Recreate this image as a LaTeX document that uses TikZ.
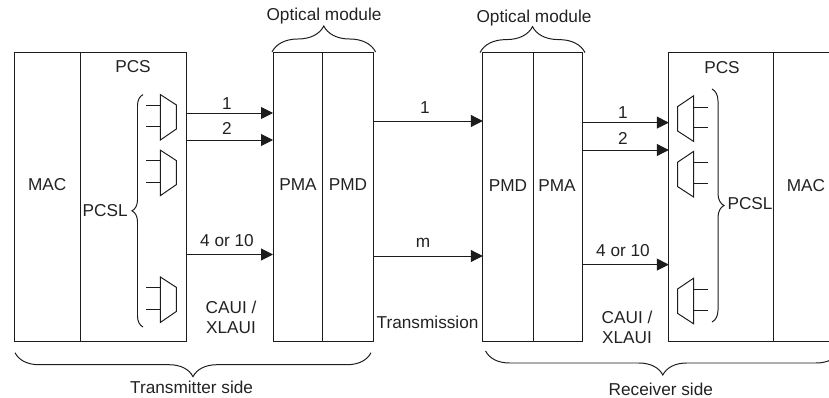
\documentclass[tikz,border=0pt]{standalone}
\usepackage{fontspec}
\setmainfont{Liberation Sans}
\usetikzlibrary{arrows.meta,decorations.pathreplacing}
\definecolor{inkline}{HTML}{1C1C1C}
\definecolor{inktext}{HTML}{222222}
\tikzset{
  blockbox/.style={draw=inkline, line width=0.7pt, anchor=north west, minimum height=7.225cm, inner sep=0pt, outer sep=0pt},
  lbl/.style={text=inktext, font=\fontsize{12.25}{14.2}\selectfont, inner sep=0pt, align=center},
  sigarrow/.style={draw=inkline, line width=0.7pt, -{Triangle[length=8.5pt,width=8.5pt]}},
  muxline/.style={draw=inkline, line width=0.7pt},
  bracket/.style={draw=inkline, line width=0.7pt, decorate, decoration={brace, amplitude=#1}}
}

\begin{document}
\begin{tikzpicture}
\useasboundingbox (0,0) rectangle (20.725,9.925);
% Transmitter side
\node[blockbox, minimum width=1.63cm] (macT) at (0.37,8.625) {};
\node[blockbox, minimum width=2.65cm] (pcsT) at (2.0,8.625) {};
\node[blockbox, minimum width=1.235cm] (pmaT) at (6.825,8.625) {};
\node[blockbox, minimum width=1.265cm] (pmdT) at (8.06,8.625) {};
\node[lbl] (macTtext) at (1.18,5.3) {MAC};
\node[lbl] (pcsTtext) at (3.325,8.25) {PCS};
\node[lbl] (pcslT) at (2.63,4.65) {PCSL};
\node[lbl] (pmaTtext) at (7.45,5.3) {PMA};
\node[lbl] (pmdTtext) at (8.7,5.3) {PMD};
% Receiver side
\node[blockbox, minimum width=1.26cm] (pmdR) at (12.07,8.6075) {};
\node[blockbox, minimum width=1.24cm] (pmaR) at (13.33,8.6075) {};
\node[blockbox, minimum width=2.62cm] (pcsR) at (16.72,8.6075) {};
\node[blockbox, minimum width=1.8cm] (macR) at (19.34,8.6075) {};
\node[lbl] (pmdRtext) at (12.7,5.275) {PMD};
\node[lbl] (pmaRtext) at (13.925,5.275) {PMA};
\node[lbl] (pcsRtext) at (18.05,8.225) {PCS};
\node[lbl] (pcslR) at (18.75,4.825) {PCSL};
\node[lbl] (macRtext) at (20.15,5.275) {MAC};
% Lanes
\coordinate (laneA) at (5,7.1);
\coordinate (laneB) at (5,6.425);
\coordinate (laneC) at (5,3.5625);
\coordinate (fibreA) at (10,6.9);
\coordinate (fibreM) at (10,3.525);
\coordinate (laneD) at (15,6.86);
\coordinate (laneE) at (15,6.175);
\coordinate (laneF) at (15,3.31);
\draw[sigarrow] (pcsT.east |- laneA) -- (pmaT.west |- laneA);
\draw[sigarrow] (pcsT.east |- laneB) -- (pmaT.west |- laneB);
\draw[sigarrow] (pcsT.east |- laneC) -- (pmaT.west |- laneC);
\draw[sigarrow] (pmdT.east |- fibreA) -- (pmdR.west |- fibreA);
\draw[sigarrow] (pmdT.east |- fibreM) -- (pmdR.west |- fibreM);
\draw[sigarrow] (pmaR.east |- laneD) -- (pcsR.west |- laneD);
\draw[sigarrow] (pmaR.east |- laneE) -- (pcsR.west |- laneE);
\draw[sigarrow] (pmaR.east |- laneF) -- (pcsR.west |- laneF);
\node[lbl] (numA) at (5.675,7.325) {1};
\node[lbl] (numB) at (5.675,6.725) {2};
\node[lbl] (numC) at (5.675,3.9) {4 or 10};
\node[lbl] (numD) at (10.625,7.225) {1};
\node[lbl] (numM) at (10.575,3.85) {m};
\node[lbl] (numE) at (15.575,7.1) {1};
\node[lbl] (numF) at (15.575,6.475) {2};
\node[lbl] (numG) at (15.575,3.65) {4 or 10};
\node[lbl] (cauiT) at (5.775,2.0) {CAUI /\\XLAUI};
\node[lbl] (cauiR) at (15.675,1.75) {CAUI /\\XLAUI};
\node[lbl] (transm) at (10.69,1.875) {Transmission};
% Muxes
\foreach \muxy in {0,-1.39,-4.56} {
  \draw[muxline, shift={(0,\muxy)}] (4.01,7.56) -- (4.41,7.3) -- (4.41,6.7) -- (4.01,6.425) -- cycle;
  \draw[muxline, shift={(0,\muxy)}] (3.66,7.3) -- (4.01,7.3) (3.66,6.76) -- (4.01,6.76);
  \draw[muxline, shift={(0,\muxy)}] (17.34,7.53) -- (16.94,7.26) -- (16.94,6.65) -- (17.34,6.39) -- cycle;
  \draw[muxline, shift={(0,\muxy)}] (17.34,7.25) -- (17.69,7.25) (17.34,6.73) -- (17.69,6.73);
}
% Braces
\draw[bracket=0.275cm] (3.575,1.75) -- (3.575,7.56);
\draw[bracket=0.3cm] (17.8,7.7) -- (17.8,1.875);
\draw[bracket=0.65cm] (6.8,8.625) -- (9.39,8.625);
\draw[bracket=0.65cm] (12.0,8.61) -- (14.625,8.61);
\draw[bracket=0.6cm] (9.275,1.1075) -- (0.375,1.1075);
\draw[bracket=0.6cm] (21.0,1.15) -- (12.14,1.15);
\node[lbl] (optT) at (8.1,9.525) {Optical module};
\node[lbl] (optR) at (13.35,9.475) {Optical module};
\node[lbl] (sideT) at (4.79,0.25) {Transmitter side};
\node[lbl] (sideR) at (16.52,0.2) {Receiver side};
\end{tikzpicture}
\end{document}
